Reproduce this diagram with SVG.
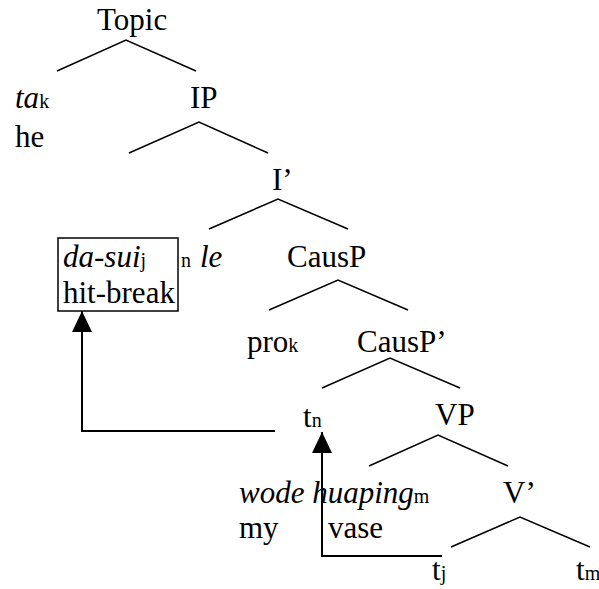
<svg xmlns="http://www.w3.org/2000/svg" width="599" height="589" viewBox="0 0 599 589">
<style>
text{font-family:"Liberation Serif","DejaVu Serif",serif;font-size:31px;fill:#000}
.i{font-style:italic}
.s{font-size:20px}
.t{stroke:#000;stroke-width:1.5;fill:none}
.a{stroke:#000;stroke-width:2;fill:none;marker-end:url(#ah)}
</style>
<defs>
<marker id="ah" markerUnits="userSpaceOnUse" viewBox="0 0 21 20" markerWidth="21" markerHeight="20" refX="21" refY="10" orient="auto">
<path d="M0,0 L21,10 L0,20 z" fill="#000"/>
</marker>
</defs>
<rect width="599" height="589" fill="#fff"/>
<g id="connectors">
<path class="t" d="M57,71 L126,40 L196,71"/>
<path class="t" d="M129,153 L199,122 L268,153"/>
<path class="t" d="M209,229 L278,199 L348,229"/>
<path class="t" d="M269,310 L338,280 L408,310"/>
<path class="t" d="M322,388 L390,358 L460,388"/>
<path class="t" d="M369,466 L438,435 L508,466"/>
<path class="t" d="M451,547 L520,517 L590,547"/>
<path class="a" d="M275,431 H82 V311"/>
<path class="a" d="M442,556 H322 V432"/>
</g>
<g id="topic"><text x="97" y="30">Topic</text></g>
<g id="ta"><text x="15" y="108"><tspan class="i">ta</tspan><tspan class="s">k</tspan></text><text x="15" y="147">he</text></g>
<g id="ip"><text x="190" y="108">IP</text></g>
<g id="ibar"><text x="272" y="190">I’</text></g>
<g id="dasui"><rect x="58" y="238" width="120" height="73" fill="none" stroke="#000" stroke-width="1.5"/><text x="63" y="267"><tspan class="i">da-sui</tspan><tspan class="s">j</tspan></text><text x="63" y="303">hit-break</text></g>
<g id="le"><text x="181" y="267"><tspan class="s">n</tspan><tspan class="i" x="200">le</tspan></text></g>
<g id="causp"><text x="287" y="267">CausP</text></g>
<g id="pro"><text x="247" y="352">pro<tspan class="s">k</tspan></text></g>
<g id="causpbar"><text x="357" y="352">CausP’</text></g>
<g id="tn"><text x="303" y="427">t<tspan class="s">n</tspan></text></g>
<g id="vp"><text x="435" y="425">VP</text></g>
<g id="wode"><text x="239" y="503"><tspan class="i">wode huaping</tspan><tspan class="s">m</tspan></text><text x="239" y="538">my</text><text x="328" y="538">vase</text></g>
<g id="vbar"><text x="503" y="503">V’</text></g>
<g id="tj"><text x="432" y="580">t<tspan class="s">j</tspan></text></g>
<g id="tm"><text x="576" y="580">t<tspan class="s">m</tspan></text></g>
</svg>
